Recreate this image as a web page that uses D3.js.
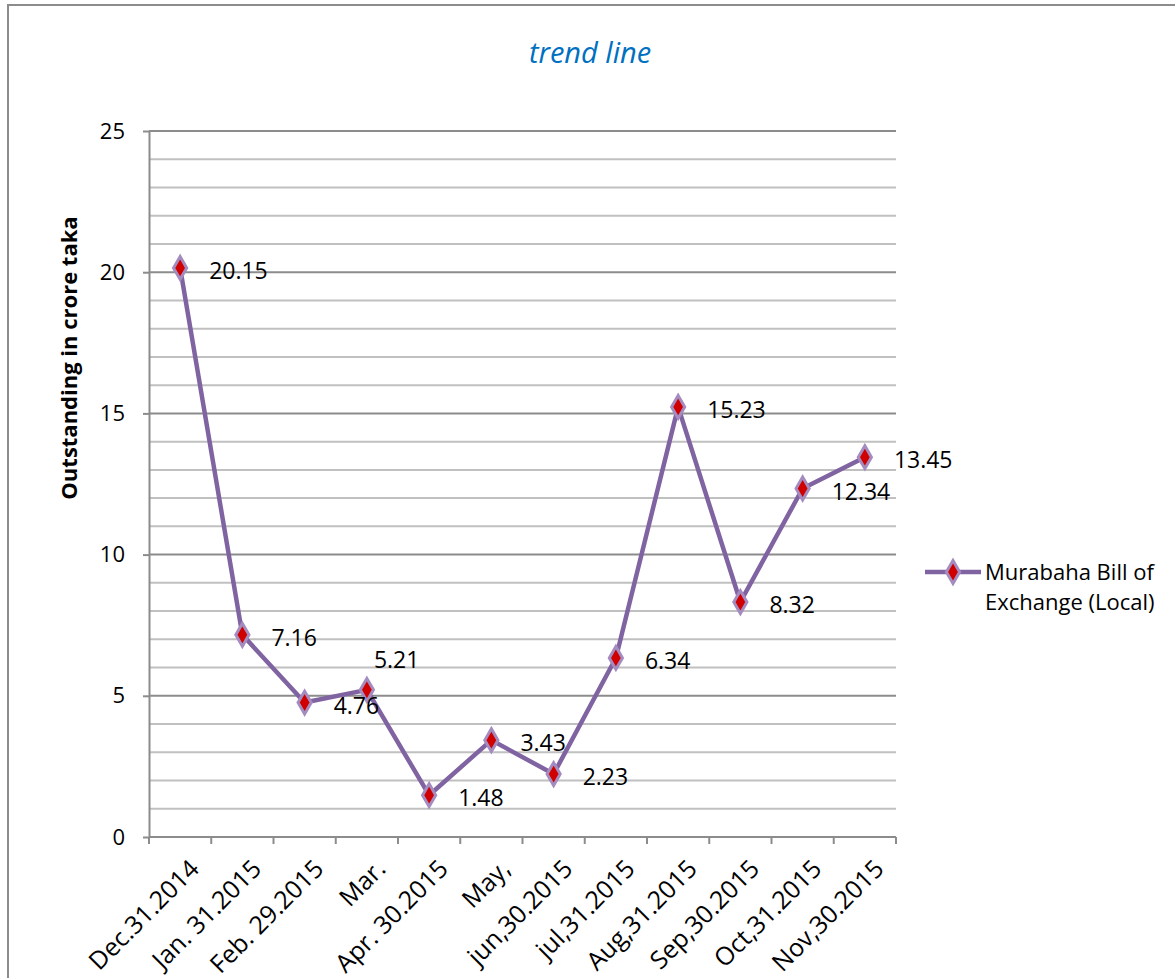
<!DOCTYPE html>
<html>
<head>
<meta charset="utf-8">
<script src="https://cdn.jsdelivr.net/npm/d3@7/dist/d3.min.js"></script>
<style>
  body { margin: 0; background: #fff; }
  svg { display: block; font-family: "Open Sans", sans-serif; }
</style>
</head>
<body>
<svg id="chart" width="1175" height="978"></svg>
<script>
// chart data
var categories = ['Dec.31.2014', 'Jan. 31.2015', 'Feb. 29.2015', 'Mar.', 'Apr. 30.2015', 'May,',
  'jun,30.2015', 'jul,31.2015', 'Aug,31.2015', 'Sep,30.2015', 'Oct,31.2015', 'Nov,30.2015'];
var outstanding = [20.15, 7.16, 4.76, 5.21, 1.48, 3.43, 2.23, 6.34, 15.23, 8.32, 12.34, 13.45];
var yTicks = [0, 5, 10, 15, 20, 25];
var seriesName = ['Murabaha Bill of', 'Exchange (Local)'];

// label nudges (only 5.21 was moved off its default spot)
var labelShift = [[0, 0], [0, 0], [0, 0], [-22, -33], [0, 0], [0, 0],
  [0, 0], [0, 0], [0, 0], [0, 0], [0, 0], [0, 0]];

var lineColor = '#8064a2';
var markColor = '#d00000';

var svg = d3.select('#chart');

var plot = { left: 149, right: 896, top: 131, bottom: 837 };

var x = d3.scaleBand()
  .domain(categories)
  .range([plot.left, plot.right]);

var y = d3.scaleLinear()
  .domain([0, 25])
  .range([plot.bottom, plot.top]);

// outer frame
svg.append('rect')
  .attr('x', 8).attr('y', 5)
  .attr('width', 1200).attr('height', 1000)
  .attr('fill', 'none')
  .attr('stroke', '#8c8c8c')
  .attr('stroke-width', 2);

// title
svg.append('text')
  .attr('x', 590).attr('y', 63)
  .attr('text-anchor', 'middle')
  .style('font-style', 'italic')
  .style('font-size', '29px')
  .attr('fill', '#0070c0')
  .text('trend line');

/**
 * Gridlines: minor every unit, major every 5
 */
var grid = svg.append('g').attr('class', 'grid');

grid.selectAll('line.minor')
  .data(d3.range(1, 25).filter(function (v) { return v % 5 !== 0; }))
  .enter()
  .append('line')
  .attr('class', 'minor')
  .attr('x1', plot.left).attr('x2', plot.right)
  .attr('y1', y).attr('y2', y)
  .attr('stroke', '#c0c0c0')
  .attr('stroke-width', 2);

grid.selectAll('line.major')
  .data(yTicks.filter(function (v) { return v > 0; }))
  .enter()
  .append('line')
  .attr('class', 'major')
  .attr('x1', plot.left).attr('x2', plot.right)
  .attr('y1', y).attr('y2', y)
  .attr('stroke', '#8c8c8c')
  .attr('stroke-width', 2);

// y axis
var yAxis = svg.append('g')
  .attr('transform', 'translate(' + plot.left + ',0)')
  .call(d3.axisLeft(y).tickValues(yTicks).tickSizeInner(6).tickSizeOuter(0).tickPadding(18));

// x axis: ticks on band edges
var xAxis = svg.append('g')
  .attr('transform', 'translate(0,' + plot.bottom + ')');

xAxis.append('line')
  .attr('x1', plot.left).attr('x2', plot.right)
  .attr('stroke', '#8c8c8c').attr('stroke-width', 2);

xAxis.selectAll('line.tick')
  .data(categories.concat(['end']))
  .enter()
  .append('line')
  .attr('class', 'tick')
  .attr('x1', function (d, i) { return i < categories.length ? x(d) : plot.right; })
  .attr('x2', function (d, i) { return i < categories.length ? x(d) : plot.right; })
  .attr('y1', 0).attr('y2', 7)
  .attr('stroke', '#8c8c8c').attr('stroke-width', 2);

xAxis.selectAll('text')
  .data(categories)
  .enter()
  .append('text')
  .attr('transform', function (d) {
    return 'translate(' + (x(d) + x.bandwidth() / 2 + 8) + ',21) rotate(-45)';
  })
  .attr('text-anchor', 'end')
  .attr('dy', '0.7em')
  .style('font-size', '25px')
  .attr('fill', '#000')
  .text(function (d) { return d; });

yAxis.select('.domain').attr('stroke', '#8c8c8c').attr('stroke-width', 2);
yAxis.selectAll('.tick line').attr('stroke', '#8c8c8c').attr('stroke-width', 2);
yAxis.selectAll('.tick text')
  .style('font-size', '22px')
  .style('font-family', '"Open Sans", sans-serif')
  .attr('fill', '#000');

// y axis title
svg.append('text')
  .attr('transform', 'translate(77,358) rotate(-90)')
  .attr('text-anchor', 'middle')
  .style('font-weight', 'bold')
  .style('font-size', '22px')
  .text('Outstanding in crore taka');

/**
 * Series line, markers and labels
 */
var cx = function (d, i) { return x(categories[i]) + x.bandwidth() / 2; };

var line = d3.line()
  .x(cx)
  .y(function (d) { return y(d); });

svg.append('path')
  .datum(outstanding)
  .attr('d', line)
  .attr('fill', 'none')
  .attr('stroke', lineColor)
  .attr('stroke-width', 4.5)
  .attr('stroke-linejoin', 'round');

var diamond = d3.symbol().type(d3.symbolDiamond).size(150);

svg.selectAll('path.mark')
  .data(outstanding)
  .enter()
  .append('path')
  .attr('class', 'mark')
  .attr('d', diamond)
  .attr('transform', function (d, i) {
    return 'translate(' + cx(d, i) + ',' + y(d) + ')';
  })
  .attr('fill', markColor)
  .attr('stroke', '#a48cc0')
  .attr('stroke-width', 3);

svg.selectAll('text.value')
  .data(outstanding)
  .enter()
  .append('text')
  .attr('class', 'value')
  .attr('x', function (d, i) { return cx(d, i) + 29 + labelShift[i][0]; })
  .attr('y', function (d, i) { return y(d) + 3 + labelShift[i][1]; })
  .attr('dy', '0.35em')
  .style('font-size', '23px')
  .text(function (d) { return d3.format('.2f')(d); });

// legend
var legend = svg.append('g').attr('transform', 'translate(925,572)');

legend.append('line')
  .attr('x1', 0).attr('x2', 56)
  .attr('stroke', lineColor).attr('stroke-width', 4.5);

legend.append('path')
  .attr('d', diamond)
  .attr('transform', 'translate(28,0)')
  .attr('fill', markColor)
  .attr('stroke', '#a48cc0')
  .attr('stroke-width', 3);

legend.selectAll('text')
  .data(seriesName)
  .enter()
  .append('text')
  .attr('x', 60)
  .attr('y', function (d, i) { return i * 30; })
  .attr('dy', '0.35em')
  .style('font-size', '22px')
  .text(function (d) { return d; });
</script>
</body>
</html>
